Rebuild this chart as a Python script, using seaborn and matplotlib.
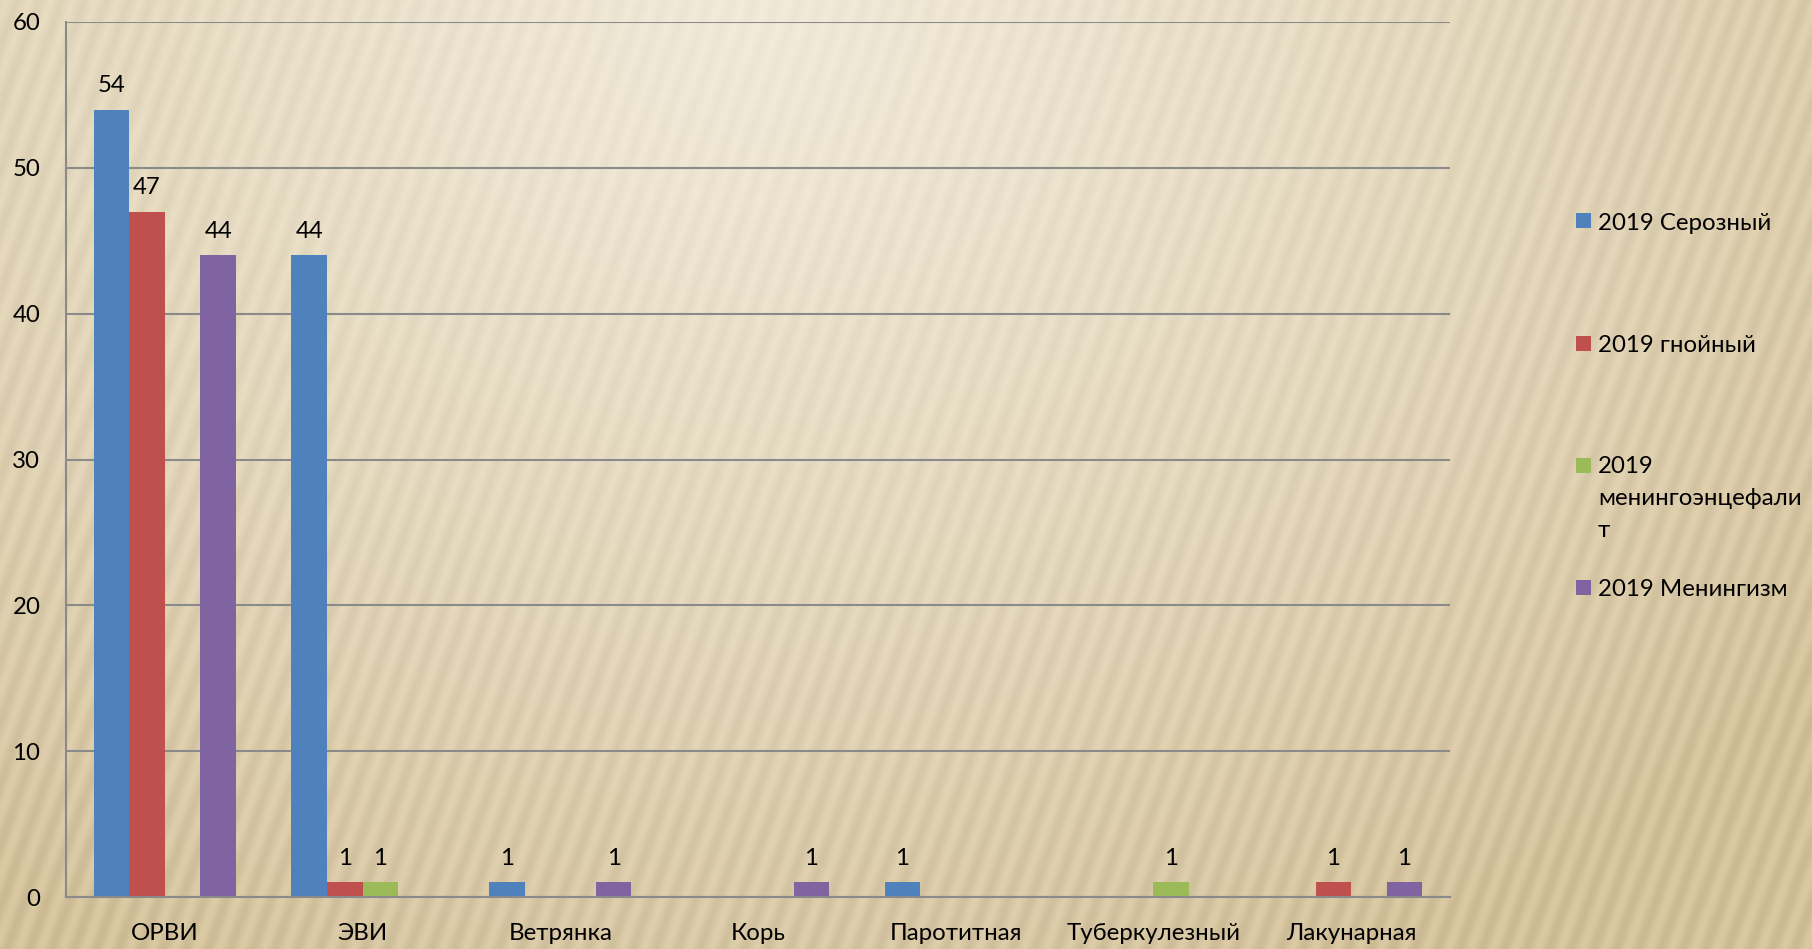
import numpy as np
import pandas as pd
import matplotlib
matplotlib.use("Agg")
import matplotlib.pyplot as plt
from matplotlib.patches import Rectangle
import seaborn as sns

# ---- data ----
categories = ['ОРВИ', 'ЭВИ', 'Ветрянка', 'Корь', 'Паротитная', 'Туберкулезный', 'Лакунарная']
series_names = ['2019 Серозный', '2019 гнойный', '2019 менингоэнцефалит', '2019 Менингизм']
serous = [54, 44, 1, 0, 1, 0, 0]
purulent = [47, 1, 0, 0, 0, 0, 1]
meningoencephalitis = [0, 1, 0, 0, 0, 1, 0]
meningism = [44, 0, 1, 1, 0, 0, 1]
legend_lines = [['2019 Серозный'], ['2019 гнойный'], ['2019', 'менингоэнцефали', 'т'], ['2019 Менингизм']]
yticks = [0, 10, 20, 30, 40, 50, 60]

colors = ['#4F81BD', '#C0504D', '#9BBB59', '#8064A2']

rows = []
for name, vals in zip(series_names, [serous, purulent, meningoencephalitis, meningism]):
    for c, v in zip(categories, vals):
        rows.append({'cat': c, 'series': name, 'value': v})
df = pd.DataFrame(rows)

sns.set_style("white")
plt.rcParams['font.family'] = ['Lato', 'DejaVu Sans']
FS = 17.3

W, H = 1812, 949
fig = plt.figure(figsize=(W / 100, H / 100), dpi=100)

# ---- background (beige with soft diagonal stripes) ----
bg = fig.add_axes([0, 0, 1, 1], zorder=-10)
yy, xx = np.mgrid[0:H, 0:W].astype(float)
xn, yn = xx / W, yy / H
d = np.sqrt(((xn - 0.42) / 0.75) ** 2 + ((yn - 0.02) / 1.1) ** 2)
t = np.clip(d, 0, 1) ** 1.2
light = np.array([0xF0, 0xE9, 0xD8]) / 255.0
dark = np.array([0xD3, 0xC1, 0x9B]) / 255.0
img = light[None, None, :] * (1 - t[..., None]) + dark[None, None, :] * t[..., None]
theta = np.deg2rad(70)
phase = (xx * np.sin(theta) + yy * np.cos(theta)) / 21.0
stripes = 0.03 * np.sin(2 * np.pi * phase) * (0.35 + 0.65 * t)
img = np.clip(img + stripes[..., None], 0, 1)
bg.imshow(img, aspect='auto', interpolation='bilinear')
bg.axis('off')

# ---- main axes ----
ax = fig.add_axes([66 / W, 52 / H, (1450 - 66) / W, (897 - 22) / H])
ax.set_facecolor('none')
sns.barplot(data=df, x='cat', y='value', hue='series', order=categories,
            hue_order=series_names, palette=colors, width=0.72, gap=0,
            linewidth=0, saturation=1, ax=ax, legend=False, errorbar=None)

ax.set_xlim(-0.5, len(categories) - 0.5)
ax.set_ylim(0, 60)
ax.set_yticks(yticks)
ax.set_xlabel('')
ax.set_ylabel('')

grid_c = '#8A8A8A'
ax.grid(axis='y', color=grid_c, linewidth=1.5, zorder=0)
ax.set_axisbelow(True)
for s in ['top', 'right']:
    ax.spines[s].set_visible(False)
for s in ['left', 'bottom']:
    ax.spines[s].set_color(grid_c)
    ax.spines[s].set_linewidth(1.5)

ax.tick_params(axis='y', length=6.5, width=1.5, color=grid_c, pad=12,
               labelsize=FS, labelcolor='black')
ax.set_xticks(np.arange(len(categories)))
ax.set_xticklabels(categories)
ax.tick_params(axis='x', which='major', length=0, pad=19, labelsize=FS, labelcolor='black')
ax.set_xticks(np.arange(-0.5, len(categories)), minor=True)
ax.tick_params(axis='x', which='minor', length=6.5, width=1.5, color=grid_c)

# data labels
for cont in ax.containers:
    for rect in cont:
        h = rect.get_height()
        if h > 0:
            ax.annotate(f'{int(h)}', (rect.get_x() + rect.get_width() / 2, h),
                        xytext=(0, 12.5), textcoords='offset points',
                        ha='center', va='baseline', fontsize=FS, color='black')

# ---- legend (manual, right side) ----
marker_top = [213, 336, 458, 580]
baselines = [[230], [351.5], [473, 505, 537], [596.5]]
for color, mtop, lines, bls in zip(colors, marker_top, legend_lines, baselines):
    fig.add_artist(Rectangle((1576 / W, 1 - (mtop + 15) / H), 15 / W, 15 / H,
                             transform=fig.transFigure, facecolor=color,
                             edgecolor='none'))
    for line, b in zip(lines, bls):
        fig.text(1598 / W, 1 - b / H, line, fontsize=FS, color='black',
                 ha='left', va='baseline')

fig.savefig('out.png', dpi=100)
